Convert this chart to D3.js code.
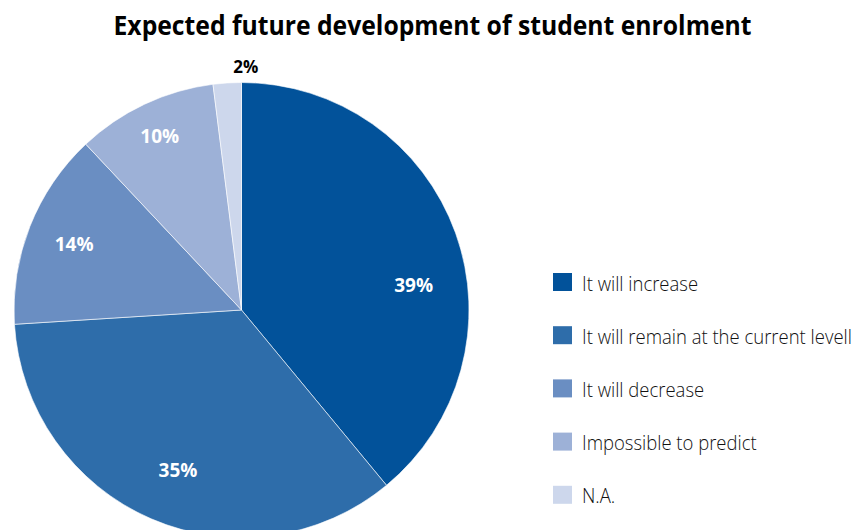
<!DOCTYPE html>
<html>
<head>
<meta charset="utf-8">
<script src="https://cdn.jsdelivr.net/npm/d3@7"></script>
<style>
  html, body { margin: 0; padding: 0; background: #ffffff; overflow: hidden; }
  svg { display: block; }
</style>
</head>
<body>
<svg id="chart" width="861" height="530"></svg>
<script>
// Survey answers: expected future development of student enrolment (percent)
const categories = [
  "It will increase",
  "It will remain at the current levell",
  "It will decrease",
  "Impossible to predict",
  "N.A."
];
const values = [39, 35, 14, 10, 2];
const colors = ["#02529a", "#2e6daa", "#6a8ec2", "#9db1d7", "#cdd7ec"];
const title = "Expected future development of student enrolment";

const svg = d3.select("#chart");

// Title
svg.append("text")
  .attr("x", 432.5)
  .attr("y", 35)
  .attr("text-anchor", "middle")
  .style("font-family", "'Open Sans', sans-serif")
  .style("font-weight", 700)
  .style("font-size", "26px")
  .attr("fill", "#000")
  .attr("textLength", 638)
  .attr("lengthAdjust", "spacingAndGlyphs")
  .text(title);

// Pie
const cx = 241.5, cy = 310, R = 227.5;
const data = categories.map((c, i) => ({ category: c, value: values[i], color: colors[i] }));
const pie = d3.pie().value(d => d.value).sort(null);
const arcs = pie(data);
const arc = d3.arc().innerRadius(0).outerRadius(R);

const g = svg.append("g").attr("transform", `translate(${cx},${cy})`);
g.selectAll("path.slice")
  .data(arcs)
  .join("path")
  .attr("class", "slice")
  .attr("d", arc)
  .attr("fill", d => d.data.color)
  .attr("stroke", "#ffffff")
  .attr("stroke-width", 0.6);

// Label placement (angle shift in radians, radius) per slice
const labelPlace = [
  { shift: 0.20, r: 174, inside: true },
  { shift: -0.03, r: 172, inside: true },
  { shift: 0.0, r: 180, inside: true },
  { shift: 0.0, r: 192, inside: true },
  { shift: 0.08, r: 244, inside: false }
];
g.selectAll("text.lbl")
  .data(arcs)
  .join("text")
  .attr("class", "lbl")
  .each(function (d, i) {
    const p = labelPlace[i];
    const a = (d.startAngle + d.endAngle) / 2 + p.shift;
    d3.select(this)
      .attr("x", Math.sin(a) * p.r)
      .attr("y", -Math.cos(a) * p.r)
      .attr("fill", p.inside ? "#ffffff" : "#000000")
      .style("font-size", p.inside ? "19px" : "17px");
  })
  .attr("text-anchor", "middle")
  .attr("dominant-baseline", "central")
  .style("font-family", "'Open Sans', sans-serif")
  .style("font-weight", 700)
  .text(d => d.data.value + "%");

// Legend
const legend = svg.append("g").attr("transform", "translate(553,273)");
const rowStep = 53.2;
const rows = legend.selectAll("g.row")
  .data(data)
  .join("g")
  .attr("class", "row")
  .attr("transform", (d, i) => `translate(0,${i * rowStep})`);
rows.append("rect")
  .attr("width", 19)
  .attr("height", 18)
  .attr("fill", d => d.color);
const texts = rows.append("text")
  .attr("x", 0)
  .attr("y", 17.5)
  .style("font-family", "'Open Sans', sans-serif")
  .style("font-weight", 300)
  .style("font-size", "20px")
  .attr("fill", "#111111")
  .text(d => d.category);

// Narrow the legend lettering so the longest entry stays inside the frame
const longest = d3.max(texts.nodes(), n => n.getComputedTextLength());
const sx = Math.min(1, 270 / longest);
texts.attr("transform", `translate(29,0) scale(${sx},1)`);
</script>
</body>
</html>
